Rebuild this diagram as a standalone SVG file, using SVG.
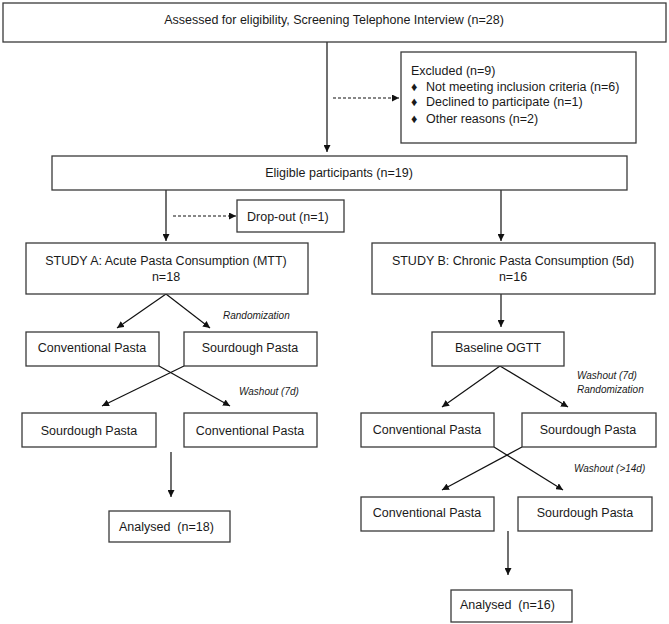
<svg xmlns="http://www.w3.org/2000/svg" width="669" height="624" viewBox="0 0 669 624">
<defs>
<marker id="ah" viewBox="0 0 8 8" refX="8" refY="4" markerWidth="7" markerHeight="7" markerUnits="userSpaceOnUse" orient="auto">
<path d="M0,0 L8,4 L0,8 z" fill="#111"/>
</marker>
<style>
.box{fill:#fff;stroke:#3a3a3a;stroke-width:1.3}
.t{font-family:"Liberation Sans",Arial,sans-serif;font-size:12.5px;fill:#1a1a1a}
.c{text-anchor:middle}
.it{font-family:"Liberation Sans",Arial,sans-serif;font-size:10px;font-style:italic;fill:#1a1a1a}
.ln{stroke:#111;stroke-width:1.2;fill:none;marker-end:url(#ah)}
.ds{stroke-dasharray:3,2}
</style>
</defs>
<rect width="669" height="624" fill="#fff"/>
<g id="connectors">
<line class="ln" x1="327" y1="42" x2="327" y2="152"/>
<line class="ln ds" x1="333" y1="98" x2="399" y2="98"/>
<line class="ln" x1="166" y1="190" x2="166" y2="241"/>
<line class="ln ds" x1="173" y1="216" x2="236" y2="216"/>
<line class="ln" x1="501" y1="190" x2="501" y2="241"/>
<line class="ln" x1="166" y1="294" x2="117" y2="328"/>
<line class="ln" x1="166" y1="294" x2="210" y2="328"/>
<line class="ln" x1="159" y1="366" x2="230" y2="406"/>
<line class="ln" x1="184" y1="366" x2="102" y2="406"/>
<line class="ln" x1="171" y1="452" x2="171" y2="497"/>
<line class="ln" x1="501" y1="294" x2="501" y2="327"/>
<line class="ln" x1="500" y1="366" x2="442" y2="407"/>
<line class="ln" x1="500" y1="366" x2="568" y2="407"/>
<line class="ln" x1="494" y1="447" x2="563" y2="490"/>
<line class="ln" x1="522" y1="447" x2="442" y2="490"/>
<line class="ln" x1="508" y1="531" x2="508" y2="575"/>
</g>
<g id="assessed">
<rect class="box" x="3" y="3" width="663" height="39"/>
<text class="t c" x="334" y="24">Assessed for eligibility, Screening Telephone Interview (n=28)</text>
</g>
<g id="excluded">
<rect class="box" x="401" y="52" width="235" height="91"/>
<text class="t" x="411" y="75">Excluded (n=9)</text>
<text class="t" x="411" y="91" font-size="8">♦</text>
<text class="t" x="426" y="91">Not meeting inclusion criteria (n=6)</text>
<text class="t" x="411" y="106" font-size="8">♦</text>
<text class="t" x="426" y="106">Declined to participate (n=1)</text>
<text class="t" x="411" y="123" font-size="8">♦</text>
<text class="t" x="426" y="123">Other reasons (n=2)</text>
</g>
<g id="eligible">
<rect class="box" x="52" y="156" width="575" height="34"/>
<text class="t c" x="339" y="177">Eligible participants (n=19)</text>
</g>
<g id="dropout">
<rect class="box" x="237" y="200" width="107" height="32"/>
<text class="t" x="247" y="221">Drop-out (n=1)</text>
</g>
<g id="studyA">
<rect class="box" x="26" y="243" width="282" height="51"/>
<text class="t c" x="166" y="265">STUDY A: Acute Pasta Consumption (MTT)</text>
<text class="t c" x="166" y="281">n=18</text>
</g>
<g id="studyB">
<rect class="box" x="372" y="243" width="283" height="51"/>
<text class="t c" x="513" y="265">STUDY B: Chronic Pasta Consumption (5d)</text>
<text class="t c" x="513" y="281">n=16</text>
</g>
<g id="labels">
<text class="it" x="223" y="319">Randomization</text>
<text class="it" x="239" y="395">Washout (7d)</text>
<text class="it" x="577" y="379">Washout (7d)</text>
<text class="it" x="577" y="393">Randomization</text>
<text class="it" x="574" y="472">Washout (&gt;14d)</text>
</g>
<g id="a-conv1">
<rect class="box" x="26" y="332" width="133" height="34"/>
<text class="t c" x="92" y="352">Conventional Pasta</text>
</g>
<g id="a-sour1">
<rect class="box" x="184" y="332" width="133" height="34"/>
<text class="t c" x="250" y="352">Sourdough Pasta</text>
</g>
<g id="a-sour2">
<rect class="box" x="22" y="413" width="134" height="34"/>
<text class="t c" x="89" y="435">Sourdough Pasta</text>
</g>
<g id="a-conv2">
<rect class="box" x="184" y="413" width="133" height="34"/>
<text class="t c" x="250" y="435">Conventional Pasta</text>
</g>
<g id="a-analysed">
<rect class="box" x="109" y="511" width="121" height="31"/>
<text class="t" x="119" y="531" xml:space="preserve">Analysed  (n=18)</text>
</g>
<g id="b-baseline">
<rect class="box" x="432" y="332" width="132" height="34"/>
<text class="t c" x="498" y="352">Baseline OGTT</text>
</g>
<g id="b-conv1">
<rect class="box" x="361" y="413" width="133" height="34"/>
<text class="t c" x="427" y="434">Conventional Pasta</text>
</g>
<g id="b-sour1">
<rect class="box" x="522" y="413" width="134" height="34"/>
<text class="t c" x="588" y="434">Sourdough Pasta</text>
</g>
<g id="b-conv2">
<rect class="box" x="361" y="497" width="133" height="34"/>
<text class="t c" x="427" y="517">Conventional Pasta</text>
</g>
<g id="b-sour2">
<rect class="box" x="518" y="497" width="134" height="34"/>
<text class="t c" x="585" y="517">Sourdough Pasta</text>
</g>
<g id="b-analysed">
<rect class="box" x="451" y="590" width="121" height="32"/>
<text class="t" x="460" y="609" xml:space="preserve">Analysed  (n=16)</text>
</g>
</svg>
